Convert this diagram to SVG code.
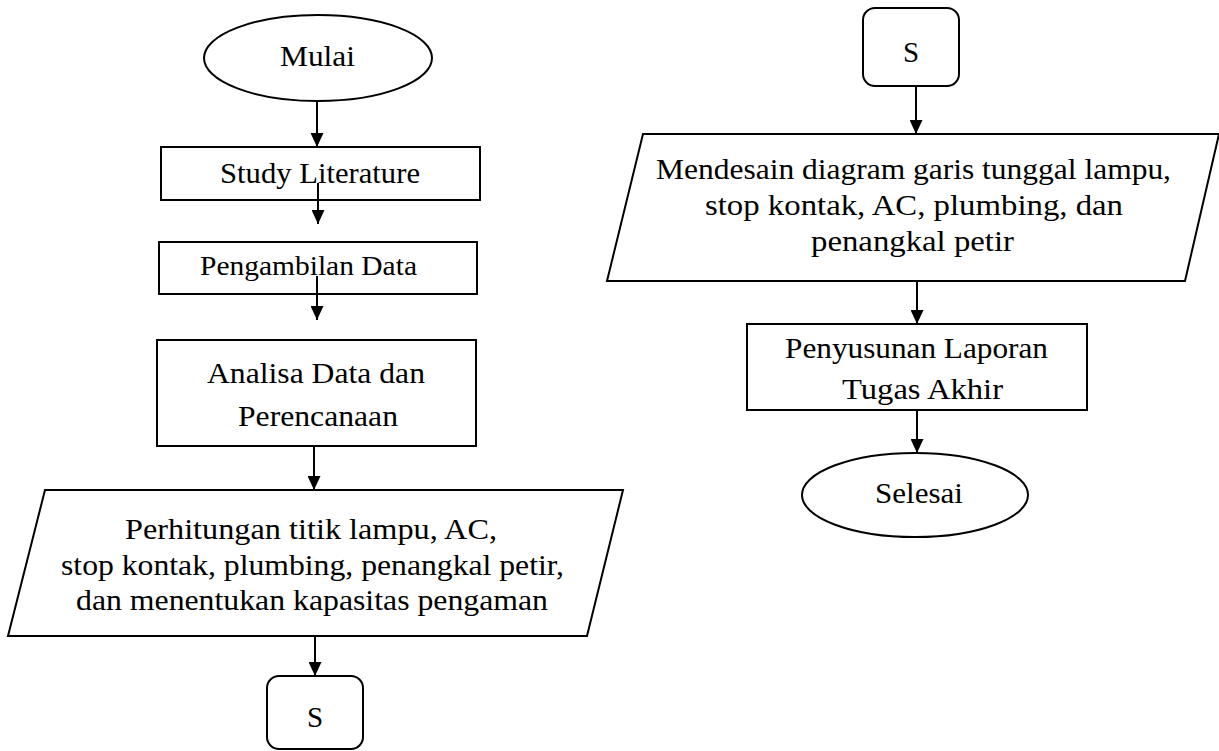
<svg xmlns="http://www.w3.org/2000/svg" width="1219" height="751" viewBox="0 0 1219 751">
<style>
.shape{fill:#fff;stroke:#000;stroke-width:2}
.t{font-family:'Liberation Serif','DejaVu Serif',serif;font-size:29px;fill:#000}
.c{stroke:#000;stroke-width:2;fill:none;marker-end:url(#ah)}
</style>
<defs>
<marker id="ah" markerUnits="userSpaceOnUse" markerWidth="14" markerHeight="13" refX="14" refY="6.5" orient="auto">
<path d="M0,0 L14,6.5 L0,13 z" fill="#000"/>
</marker>
</defs>
<rect width="1219" height="751" fill="#fff"/>
<g id="mulai">
<ellipse class="shape" cx="318" cy="58" rx="114" ry="43"/>
<text class="t" font-family="Liberation Serif, serif" x="280" y="66" textLength="75" lengthAdjust="spacingAndGlyphs">Mulai</text>
</g>
<g id="study">
<rect class="shape" x="161" y="147" width="319" height="53"/>
<text class="t" font-family="Liberation Serif, serif" x="220" y="183" textLength="200" lengthAdjust="spacingAndGlyphs">Study Literature</text>
</g>
<g id="pengambilan">
<rect class="shape" x="159" y="242" width="318" height="52"/>
<text class="t" font-family="Liberation Serif, serif" x="200" y="275" style="font-size:27px" textLength="217" lengthAdjust="spacingAndGlyphs">Pengambilan Data</text>
</g>
<g id="analisa">
<rect class="shape" x="157" y="340" width="319" height="106"/>
<text class="t" font-family="Liberation Serif, serif" x="207" y="383" textLength="218" lengthAdjust="spacingAndGlyphs">Analisa Data dan</text>
<text class="t" font-family="Liberation Serif, serif" x="238" y="426" textLength="160" lengthAdjust="spacingAndGlyphs">Perencanaan</text>
</g>
<g id="perhitungan">
<polygon class="shape" points="45,490 623,490 587,636 8,636"/>
<text class="t" font-family="Liberation Serif, serif" x="125" y="539" textLength="372" lengthAdjust="spacingAndGlyphs">Perhitungan titik lampu, AC,</text>
<text class="t" font-family="Liberation Serif, serif" x="61" y="575" textLength="503" lengthAdjust="spacingAndGlyphs">stop kontak, plumbing, penangkal petir,</text>
<text class="t" font-family="Liberation Serif, serif" x="76" y="610" textLength="472" lengthAdjust="spacingAndGlyphs">dan menentukan kapasitas pengaman</text>
</g>
<g id="s1">
<rect class="shape" x="267" y="676" width="96" height="73" rx="12"/>
<text class="t" font-family="Liberation Serif, serif" x="315" y="727" text-anchor="middle">S</text>
</g>
<g id="s2">
<rect class="shape" x="863" y="8" width="96" height="78" rx="12"/>
<text class="t" font-family="Liberation Serif, serif" x="911" y="62" text-anchor="middle">S</text>
</g>
<g id="mendesain">
<polygon class="shape" points="643,134 1219,134 1185,281 607,281"/>
<text class="t" font-family="Liberation Serif, serif" x="656" y="179" textLength="515" lengthAdjust="spacingAndGlyphs">Mendesain diagram garis tunggal lampu,</text>
<text class="t" font-family="Liberation Serif, serif" x="705" y="215" textLength="418" lengthAdjust="spacingAndGlyphs">stop kontak, AC, plumbing, dan</text>
<text class="t" font-family="Liberation Serif, serif" x="811" y="251" textLength="203" lengthAdjust="spacingAndGlyphs">penangkal petir</text>
</g>
<g id="penyusunan">
<rect class="shape" x="747" y="324" width="340" height="86"/>
<text class="t" font-family="Liberation Serif, serif" x="785" y="358" textLength="263" lengthAdjust="spacingAndGlyphs">Penyusunan Laporan</text>
<text class="t" font-family="Liberation Serif, serif" x="842" y="399" textLength="161" lengthAdjust="spacingAndGlyphs">Tugas Akhir</text>
</g>
<g id="selesai">
<ellipse class="shape" cx="915" cy="495" rx="113" ry="42"/>
<text class="t" font-family="Liberation Serif, serif" x="875" y="503" textLength="88" lengthAdjust="spacingAndGlyphs">Selesai</text>
</g>
<g id="connectors">
<line class="c" x1="317" y1="102" x2="317" y2="147"/>
<line class="c" x1="318" y1="183" x2="318" y2="224"/>
<line class="c" x1="317" y1="276" x2="317" y2="320"/>
<line class="c" x1="314" y1="446" x2="314" y2="490"/>
<line class="c" x1="315" y1="636" x2="315" y2="676"/>
<line class="c" x1="916" y1="86" x2="916" y2="134"/>
<line class="c" x1="917" y1="281" x2="917" y2="324"/>
<line class="c" x1="917" y1="410" x2="917" y2="453"/>
</g>
</svg>
